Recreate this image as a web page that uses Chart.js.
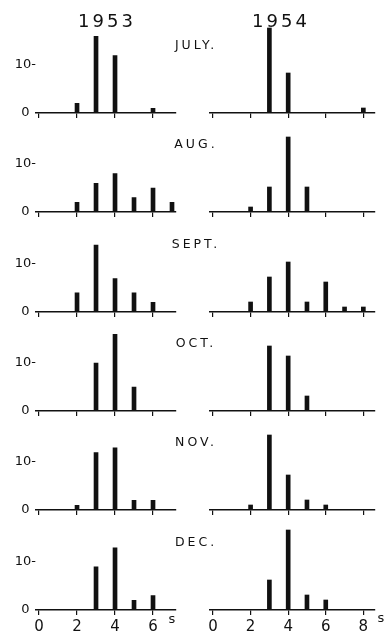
<!DOCTYPE html>
<html>
<head>
<meta charset="utf-8">
<script src="https://cdn.jsdelivr.net/npm/chart.js@4"></script>
<style>
  html, body { margin: 0; padding: 0; background: #fff; }
  #page { position: relative; width: 387px; height: 640px; overflow: hidden; }
  canvas { position: absolute; }
  .lbl { position: absolute; font-family: "DejaVu Sans", sans-serif; color: #111; white-space: nowrap;
         transform: translate(-50%, -50%); }
  .year { font-size: 18px; letter-spacing: 3px; }
  .month { font-size: 12.5px; letter-spacing: 3px; }
  .unit { font-size: 13px; }
</style>
</head>
<body>
<div id="page"></div>
<script>
'use strict';

// ── Data (counts per period class, s) ───────────────────────────────────────
const periods = [2, 3, 4, 5, 6, 7, 8];
const months  = ['JULY.', 'AUG.', 'SEPT.', 'OCT.', 'NOV.', 'DEC.'];
const years   = ['1953', '1954'];

const jul1953 = [2, 16, 12, null, 1, null, null];
const aug1953 = [2, 6, 8, 3, 5, 2, null];
const sep1953 = [4, 14, 7, 4, 2, null, null];
const oct1953 = [null, 10, 16, 5, null, null, null];
const nov1953 = [1, 12, 13, 2, 2, null, null];
const dec1953 = [null, 9, 13, 2, 3, null, null];

const jul1954 = [null, 17, 8, null, null, null, 1];
const aug1954 = [1, 5, 15, 5, null, null, null];
const sep1954 = [2, 7, 10, 2, 6, 1, 1];
const oct1954 = [null, 13, 11, 3, null, null, null];
const nov1954 = [1, 15, 7, 2, 1, null, null];
const dec1954 = [null, 6, 16, 3, 2, null, null];

const yTicks      = [0, 10];
const xTicksLeft  = [0, 2, 4, 6];
const xTicksRight = [0, 2, 4, 6, 8];

const series = [
  [jul1953, jul1954],
  [aug1953, aug1954],
  [sep1953, sep1954],
  [oct1953, oct1954],
  [nov1953, nov1954],
  [dec1953, dec1954],
];

// ── Layout ───────────────────────────────────────────────────────────────────
const INK       = '#111';
const FONT      = '"DejaVu Sans", sans-serif';
const baselines = [113, 212, 312, 411, 510, 610];
const page      = document.getElementById('page');

function addLabel(text, cls, x, y) {
  const d = document.createElement('div');
  d.className = 'lbl ' + cls;
  d.textContent = text;
  d.style.left = x + 'px';
  d.style.top  = y + 'px';
  page.appendChild(d);
}

function makePanel(row, col) {
  const isLeft   = col === 0;
  const isBottom = row === months.length - 1;
  const base     = baselines[row];
  const axisH    = isBottom ? 31 : 8;

  const cv = document.createElement('canvas');
  cv.width  = isLeft ? 180 : 187;
  cv.height = 94 + axisH;
  cv.style.left = (isLeft ? 0 : 200) + 'px';
  cv.style.top  = (base - 94) + 'px';
  page.appendChild(cv);

  const vals = series[row][col];
  const data = periods
    .map((x, i) => ({ x, y: vals[i] }))
    .filter(p => p.y !== null);
  const xTicks = isLeft ? xTicksLeft : xTicksRight;

  new Chart(cv.getContext('2d'), {
    type: 'bar',
    data: {
      datasets: [{
        data,
        backgroundColor: INK,
        borderWidth: 0,
        barThickness: 4,
      }],
    },
    options: {
      responsive: false,
      animation: false,
      events: [],
      layout: { padding: isLeft ? { top: 4, right: 4 } : { top: 4, left: 10, right: 12 } },
      plugins: { legend: { display: false }, tooltip: { enabled: false } },
      scales: {
        x: {
          type: 'linear',
          offset: false,
          min: -0.16,
          max: isLeft ? 7.21 : 8.62,
          afterBuildTicks: s => { s.ticks = xTicks.map(value => ({ value })); },
          afterFit: s => { s.height = axisH; },
          border: { display: true, color: INK, width: 1.6 },
          grid: { offset: false, drawOnChartArea: false, drawTicks: true, tickLength: 5, color: INK, lineWidth: 1.2 },
          ticks: {
            display: isBottom,
            color: INK,
            padding: 3,
            maxRotation: 0,
            font: { family: FONT, size: 15 },
          },
        },
        y: {
          display: isLeft,
          min: 0,
          max: 18,
          afterBuildTicks: s => { s.ticks = yTicks.map(value => ({ value })); },
          afterFit: s => { s.width = isLeft ? 36 : 0; },
          border: { display: false },
          grid: { display: false, drawTicks: false },
          ticks: {
            color: INK,
            padding: 0,
            crossAlign: 'center',
            font: { family: FONT, size: 13 },
            callback: v => v === 10 ? '10-' : String(v),
          },
        },
      },
    },
  });
}

// ── Build ────────────────────────────────────────────────────────────────────
months.forEach((m, row) => {
  makePanel(row, 0);
  makePanel(row, 1);
  addLabel(m, 'month', 196, baselines[row] - 69);
});

addLabel(years[0], 'year', 107, 20);
addLabel(years[1], 'year', 281, 20);
addLabel('s', 'unit', 172, 618);
addLabel('s', 'unit', 381, 617);
</script>
</body>
</html>
